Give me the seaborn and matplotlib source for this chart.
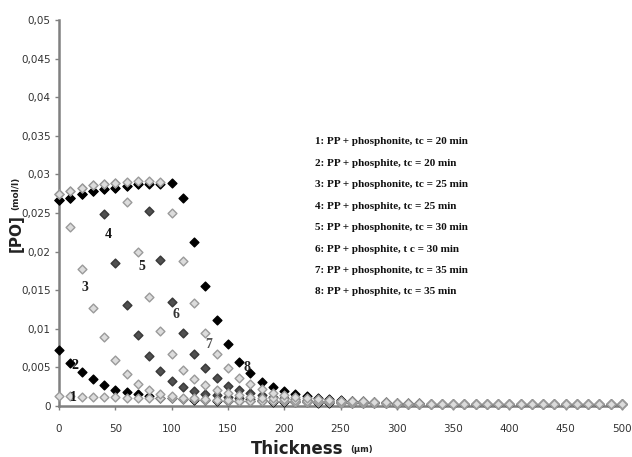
import numpy as np
import pandas as pd
import matplotlib
matplotlib.use("Agg")
import matplotlib.pyplot as plt
import seaborn as sns

# ---- data ----
thickness = np.arange(0, 501, 10)

s1 = [0.0013, 0.0013, 0.0012, 0.0012, 0.0012, 0.0012, 0.0011, 0.0011, 0.0011, 0.0010,
      0.0010, 0.0009, 0.0009, 0.0008, 0.0008, 0.0007, 0.0007, 0.0007, 0.0006, 0.0006,
      0.0006, 0.0005, 0.0005, 0.0005, 0.0005, 0.0004, 0.0004, 0.0004, 0.0004, 0.0004,
      0.0003, 0.0003, 0.0003, 0.0003, 0.0003, 0.0003, 0.0003, 0.0003, 0.0003, 0.0003,
      0.0003, 0.0003, 0.0003, 0.0003, 0.0003, 0.0003, 0.0003, 0.0003, 0.0003, 0.0003, 0.0003]
s2 = [0.0073, 0.0056, 0.0044, 0.0035, 0.0027, 0.0021, 0.0018, 0.0015, 0.0013, 0.0011,
      0.0010, 0.0009, 0.0008, 0.0008, 0.0007, 0.0007, 0.0006, 0.0006, 0.0006, 0.0005,
      0.0005, 0.0005, 0.0005, 0.0004, 0.0004, 0.0004, 0.0004, 0.0004, 0.0004, 0.0004,
      0.0003, 0.0003, 0.0003, 0.0003, 0.0003, 0.0003, 0.0003, 0.0003, 0.0003, 0.0003,
      0.0003, 0.0003, 0.0003, 0.0003, 0.0003, 0.0003, 0.0003, 0.0003, 0.0003, 0.0003, 0.0003]
s3 = [0.0274, 0.0232, 0.0177, 0.0127, 0.0089, 0.0060, 0.0042, 0.0029, 0.0021, 0.0016,
      0.0013, 0.0011, 0.0010, 0.0009, 0.0008, 0.0008, 0.0007, 0.0007, 0.0006, 0.0006,
      0.0006, 0.0005, 0.0005, 0.0005, 0.0005, 0.0004, 0.0004, 0.0004, 0.0004, 0.0004,
      0.0003, 0.0003, 0.0003, 0.0003, 0.0003, 0.0003, 0.0003, 0.0003, 0.0003, 0.0003,
      0.0003, 0.0003, 0.0003, 0.0003, 0.0003, 0.0003, 0.0003, 0.0003, 0.0003, 0.0003, 0.0003]
s4 = [0.0267, 0.0270, 0.0275, 0.0278, 0.0249, 0.0185, 0.0131, 0.0092, 0.0065, 0.0045,
      0.0033, 0.0025, 0.0019, 0.0016, 0.0014, 0.0012, 0.0010, 0.0009, 0.0008, 0.0007,
      0.0007, 0.0006, 0.0006, 0.0005, 0.0005, 0.0005, 0.0004, 0.0004, 0.0004, 0.0004,
      0.0003, 0.0003, 0.0003, 0.0003, 0.0003, 0.0003, 0.0003, 0.0003, 0.0003, 0.0003,
      0.0003, 0.0003, 0.0003, 0.0003, 0.0003, 0.0003, 0.0003, 0.0003, 0.0003, 0.0003, 0.0003]
s5 = [0.0274, 0.0278, 0.0282, 0.0286, 0.0287, 0.0289, 0.0264, 0.0200, 0.0141, 0.0097,
      0.0067, 0.0047, 0.0035, 0.0027, 0.0021, 0.0017, 0.0014, 0.0012, 0.0011, 0.0010,
      0.0009, 0.0008, 0.0007, 0.0007, 0.0006, 0.0006, 0.0005, 0.0005, 0.0005, 0.0004,
      0.0004, 0.0003, 0.0003, 0.0003, 0.0003, 0.0003, 0.0003, 0.0003, 0.0003, 0.0003,
      0.0003, 0.0003, 0.0003, 0.0003, 0.0003, 0.0003, 0.0003, 0.0003, 0.0003, 0.0003, 0.0003]
s6 = [0.0267, 0.0270, 0.0275, 0.0278, 0.0281, 0.0283, 0.0285, 0.0287, 0.0253, 0.0189,
      0.0135, 0.0095, 0.0068, 0.0049, 0.0036, 0.0026, 0.0021, 0.0017, 0.0014, 0.0012,
      0.0010, 0.0009, 0.0008, 0.0007, 0.0007, 0.0006, 0.0006, 0.0005, 0.0005, 0.0004,
      0.0004, 0.0003, 0.0003, 0.0003, 0.0003, 0.0003, 0.0003, 0.0003, 0.0003, 0.0003,
      0.0003, 0.0003, 0.0003, 0.0003, 0.0003, 0.0003, 0.0003, 0.0003, 0.0003, 0.0003, 0.0003]
s7 = [0.0274, 0.0278, 0.0282, 0.0286, 0.0287, 0.0289, 0.0290, 0.0291, 0.0291, 0.0290,
      0.0250, 0.0188, 0.0134, 0.0095, 0.0068, 0.0049, 0.0036, 0.0028, 0.0022, 0.0017,
      0.0014, 0.0012, 0.0010, 0.0009, 0.0008, 0.0007, 0.0006, 0.0006, 0.0005, 0.0005,
      0.0004, 0.0004, 0.0004, 0.0003, 0.0003, 0.0003, 0.0003, 0.0003, 0.0003, 0.0003,
      0.0003, 0.0003, 0.0003, 0.0003, 0.0003, 0.0003, 0.0003, 0.0003, 0.0003, 0.0003, 0.0003]
s8 = [0.0267, 0.0270, 0.0275, 0.0278, 0.0281, 0.0283, 0.0285, 0.0287, 0.0288, 0.0288,
      0.0289, 0.0270, 0.0213, 0.0155, 0.0111, 0.0080, 0.0057, 0.0043, 0.0031, 0.0025,
      0.0019, 0.0016, 0.0013, 0.0011, 0.0009, 0.0008, 0.0007, 0.0006, 0.0005, 0.0005,
      0.0004, 0.0004, 0.0004, 0.0003, 0.0003, 0.0003, 0.0003, 0.0003, 0.0003, 0.0003,
      0.0003, 0.0003, 0.0003, 0.0003, 0.0003, 0.0003, 0.0003, 0.0003, 0.0003, 0.0003, 0.0003]

series_values = [s1, s2, s3, s4, s5, s6, s7, s8]
legend_lines = [
    "1: PP + phosphonite, tc = 20 min",
    "2: PP + phosphite, tc = 20 min",
    "3: PP + phosphonite, tc = 25 min",
    "4: PP + phosphite, tc = 25 min",
    "5: PP + phosphonite, tc = 30 min",
    "6: PP + phosphite, t c = 30 min",
    "7: PP + phosphonite, tc = 35 min",
    "8: PP + phosphite, tc = 35 min",
]
curve_labels = ["1", "2", "3", "4", "5", "6", "7", "8"]
label_x = [13, 14, 23, 44, 74, 104, 133, 167]
label_y = [0.0011, 0.0053, 0.0154, 0.0222, 0.0181, 0.0118, 0.0080, 0.0050]
x_ticks = [0, 50, 100, 150, 200, 250, 300, 350, 400, 450, 500]
y_ticks = [0, 0.005, 0.01, 0.015, 0.02, 0.025, 0.03, 0.035, 0.04, 0.045, 0.05]
y_tick_labels = ["0", "0,005", "0,01", "0,015", "0,02", "0,025", "0,03",
                 "0,035", "0,04", "0,045", "0,05"]

# ---- styling ----
sns.set_style("white")
plt.rcParams["font.family"] = ["DejaVu Sans"]

styles = {
    "light": dict(facecolor="#dcdcdc", edgecolor="#9a9a9a"),
    "dark": dict(facecolor="#505050", edgecolor="#383838"),
    "black": dict(facecolor="#000000", edgecolor="#000000"),
}
series_style = ["light", "black", "light", "dark", "light", "dark", "light", "black"]
# dark-gray first, then black, then the pale markers on top (as in the reference)
draw_order = [3, 5, 1, 7, 0, 2, 4, 6]

frames = []
for i, vals in enumerate(series_values):
    frames.append(pd.DataFrame({"thickness": thickness, "PO": vals,
                                "series": legend_lines[i]}))
df = pd.concat(frames, ignore_index=True)

fig = plt.figure(figsize=(6.32, 4.57), dpi=100)
ax = fig.add_axes([59 / 632, 1 - 406 / 457, (622 - 59) / 632, (406 - 20) / 457])

for i in draw_order:
    name = legend_lines[i]
    st = styles[series_style[i]]
    sns.scatterplot(data=df[df["series"] == name], x="thickness", y="PO", ax=ax,
                    marker="D", s=20, color=st["facecolor"],
                    edgecolor=st["edgecolor"], linewidth=1.0, legend=False,
                    zorder=3, clip_on=False)

ax.set_xlim(0, 500)
ax.set_ylim(0, 0.05)
ax.set_xticks(x_ticks)
ax.set_xticklabels([str(t) for t in x_ticks])
ax.set_yticks(y_ticks)
ax.set_yticklabels(y_tick_labels)
ax.set_xlabel("")
ax.set_ylabel("")

narrow = ["Liberation Sans Narrow", "DejaVu Sans"]
for lab in ax.get_xticklabels() + ax.get_yticklabels():
    lab.set_family(narrow)
    lab.set_fontsize(7.5)
    lab.set_color("#333333")

ax.tick_params(axis="both", direction="out", length=3, width=1, color="#808080",
               left=True, bottom=True)
ax.tick_params(axis="x", pad=10)
ax.tick_params(axis="y", pad=3)
for side in ["top", "right"]:
    ax.spines[side].set_visible(False)
for side in ["left", "bottom"]:
    ax.spines[side].set_color("#808080")
    ax.spines[side].set_linewidth(1.8)

# curve number labels
label_colors = ["#111111", "#111111", "#222222", "#111111", "#222222", "#333333", "#555555", "#222222"]
for t, lx, ly, c in zip(curve_labels, label_x, label_y, label_colors):
    ax.text(lx, ly, t, fontsize=10, fontweight="bold", family=["Liberation Serif"],
            color=c, ha="center", va="center", zorder=4)

# legend text block
for i, line in enumerate(legend_lines):
    y = 142 + i * 21.4
    fig.text(315 / 632, 1 - y / 457, line, fontsize=8, fontweight="bold",
             family=["Liberation Serif"], color="#111111", ha="left", va="center")

# axis labels
fig.text(16 / 632, 1 - 233 / 457, "[PO]", rotation=90, fontsize=11,
         fontweight="bold", ha="center", va="center", color="#222222")
fig.text(16 / 632, 1 - 193 / 457, "(mol/l)", rotation=90, fontsize=6.5,
         fontweight="bold", ha="center", va="center", color="#222222")
fig.text(297 / 632, 1 - 449 / 457, "Thickness", fontsize=12, fontweight="bold",
         ha="center", va="center", color="#222222")
fig.text(362 / 632, 1 - 450 / 457, "(µm)", fontsize=6, fontweight="bold",
         ha="center", va="center", color="#222222")

fig.savefig("out.png", dpi=100)
